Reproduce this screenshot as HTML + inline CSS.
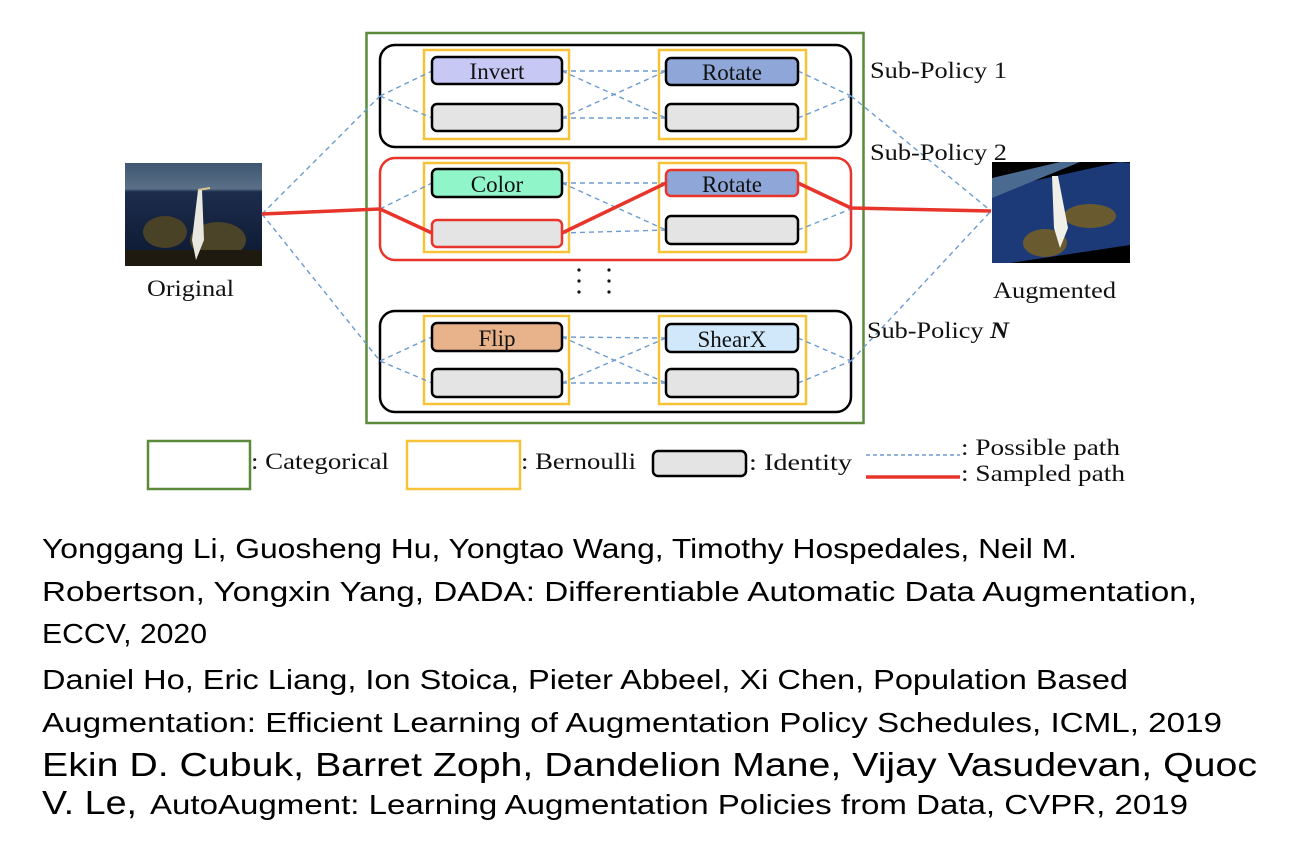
<!DOCTYPE html>
<html><head><meta charset="utf-8"><style>
html,body{margin:0;padding:0;background:#fff;}
svg{display:block;}
.s{font-family:"Liberation Serif",serif;font-size:23px;fill:#111;}
.t{font-family:"Liberation Sans",sans-serif;fill:#000;}
</style></head><body>
<svg width="1292" height="860" viewBox="0 0 1292 860" xmlns="http://www.w3.org/2000/svg">
<defs>
<linearGradient id="sky" x1="0" y1="0" x2="0" y2="1">
<stop offset="0" stop-color="#3e5670"/><stop offset="0.25" stop-color="#5b7088"/><stop offset="0.28" stop-color="#1c2c4c"/><stop offset="1" stop-color="#0d1830"/>
</linearGradient>
</defs>
<!-- Original image -->
<g>
<rect x="125" y="163" width="137" height="103" fill="url(#sky)"/>
<ellipse cx="165" cy="232" rx="22" ry="16" fill="#4a4226"/>
<ellipse cx="218" cy="240" rx="28" ry="18" fill="#4c4428"/>
<rect x="125" y="250" width="137" height="16" fill="#1e1a10"/>
<path d="M198 190 L202 190 L204 240 L196 260 L192 240 Z" fill="#e8e8e0"/>
<path d="M198 190 L210 188" stroke="#d8c890" stroke-width="2"/>
</g>
<text class="s" x="147" y="296" textLength="87" lengthAdjust="spacingAndGlyphs">Original</text>
<!-- Augmented image -->
<g>
<rect x="992" y="162" width="138" height="101" fill="#000"/>
<polygon points="992,190 1120,162 1130,163 1130,245 1010,263 992,263" fill="#1d3a78"/>
<polygon points="992,178 1060,162 1080,162 992,198" fill="#4a6a90"/>
<ellipse cx="1045" cy="243" rx="22" ry="14" fill="#6a5a30"/>
<ellipse cx="1090" cy="216" rx="26" ry="12" fill="#6a5a30"/>
<path d="M1052 176 L1058 176 L1068 228 L1060 248 L1054 228 Z" fill="#f0f0e8"/>
</g>
<text class="s" x="993" y="298" textLength="123" lengthAdjust="spacingAndGlyphs">Augmented</text>

<!-- Green categorical -->
<rect x="366.5" y="33" width="497" height="390" fill="none" stroke="#5b8a3a" stroke-width="2.5"/>

<!-- sub-policy boxes -->
<rect x="380" y="45" width="471" height="102" rx="15" fill="none" stroke="#000" stroke-width="2.5"/>
<rect x="380" y="158" width="471" height="102" rx="15" fill="none" stroke="#e8352b" stroke-width="2.5"/>
<rect x="380" y="311" width="471" height="101" rx="15" fill="none" stroke="#000" stroke-width="2.5"/>

<!-- yellow bernoulli -->
<g fill="none" stroke="#f5c238" stroke-width="2.5">
<rect x="424" y="50" width="145" height="89"/>
<rect x="659" y="50" width="147" height="89"/>
<rect x="424" y="163" width="145" height="89"/>
<rect x="659" y="163" width="147" height="89"/>
<rect x="424" y="316" width="145" height="88"/>
<rect x="659" y="316" width="147" height="88"/>
</g>

<!-- dashed possible paths -->
<g fill="none" stroke="#6c9bd0" stroke-width="1.4" stroke-dasharray="5,4">
<line x1="262" y1="214" x2="380" y2="96"/>
<line x1="262" y1="214" x2="380" y2="361"/>
<line x1="851" y1="96" x2="991" y2="211"/>
<line x1="851" y1="361" x2="991" y2="211"/>
<line x1="380" y1="96" x2="432" y2="71"/><line x1="380" y1="96" x2="432" y2="118"/>
<line x1="562" y1="71" x2="666" y2="71"/><line x1="562" y1="71" x2="666" y2="118"/>
<line x1="562" y1="118" x2="666" y2="71"/><line x1="562" y1="118" x2="666" y2="118"/>
<line x1="798" y1="71" x2="851" y2="96"/><line x1="798" y1="118" x2="851" y2="96"/>
<line x1="380" y1="209" x2="432" y2="183"/>
<line x1="562" y1="183" x2="666" y2="183"/><line x1="562" y1="183" x2="666" y2="230"/>
<line x1="562" y1="233" x2="666" y2="230"/>
<line x1="798" y1="230" x2="851" y2="209"/>
<line x1="380" y1="361" x2="432" y2="337"/><line x1="380" y1="361" x2="432" y2="383"/>
<line x1="562" y1="337" x2="666" y2="338"/><line x1="562" y1="337" x2="666" y2="383"/>
<line x1="562" y1="383" x2="666" y2="338"/><line x1="562" y1="383" x2="666" y2="383"/>
<line x1="798" y1="338" x2="851" y2="361"/><line x1="798" y1="383" x2="851" y2="361"/>
</g>

<!-- sampled path -->
<g fill="none" stroke="#e8352b" stroke-width="3.5" stroke-linejoin="round">
<polyline points="262,214 380,209 432,233"/>
<polyline points="562,233 666,183"/>
<polyline points="798,183 851,208 991,211"/>
</g>

<!-- op boxes -->
<g stroke="#000" stroke-width="2.5">
<rect x="432" y="57" width="130" height="27" rx="5" fill="#c8c8f5"/>
<rect x="432" y="104" width="130" height="27" rx="5" fill="#e4e4e4"/>
<rect x="666" y="58" width="132" height="27" rx="5" fill="#8fa7d8"/>
<rect x="666" y="104" width="132" height="27" rx="5" fill="#e4e4e4"/>
<rect x="432" y="169" width="130" height="28" rx="5" fill="#90f5c8"/>
<rect x="432" y="220" width="130" height="27" rx="5" fill="#e4e4e4" stroke="#e8352b"/>
<rect x="666" y="170" width="132" height="26" rx="5" fill="#8fa7d8" stroke="#e8352b"/>
<rect x="666" y="216" width="132" height="28" rx="5" fill="#e4e4e4"/>
<rect x="432" y="323" width="130" height="28" rx="5" fill="#e8b38a"/>
<rect x="432" y="369" width="130" height="28" rx="5" fill="#e4e4e4"/>
<rect x="666" y="324" width="132" height="28" rx="5" fill="#d0e8fa"/>
<rect x="666" y="369" width="132" height="28" rx="5" fill="#e4e4e4"/>
</g>
<g class="s" text-anchor="middle" font-size="24">
<text x="497" y="79">Invert</text>
<text x="732" y="80">Rotate</text>
<text x="497" y="192">Color</text>
<text x="732" y="192">Rotate</text>
<text x="497" y="346">Flip</text>
<text x="732" y="347">ShearX</text>
</g>
<g fill="#111">
<circle cx="579" cy="270" r="1.6"/><circle cx="579" cy="281" r="1.6"/><circle cx="579" cy="292" r="1.6"/>
<circle cx="609" cy="270" r="1.6"/><circle cx="609" cy="281" r="1.6"/><circle cx="609" cy="292" r="1.6"/>
</g>
<text class="s" x="870" y="78" textLength="137" lengthAdjust="spacingAndGlyphs">Sub-Policy 1</text>
<text class="s" x="870" y="160" textLength="137" lengthAdjust="spacingAndGlyphs">Sub-Policy 2</text>
<text class="s" x="867" y="338" textLength="142" lengthAdjust="spacingAndGlyphs">Sub-Policy <tspan font-style="italic" font-weight="bold">N</tspan></text>

<!-- legend -->
<rect x="148" y="441" width="102" height="48" fill="none" stroke="#5b8a3a" stroke-width="2.5"/>
<text class="s" x="251" y="469" textLength="138" lengthAdjust="spacingAndGlyphs">: Categorical</text>
<rect x="407" y="441" width="113" height="48" fill="none" stroke="#f5c238" stroke-width="2.5"/>
<text class="s" x="521" y="469" textLength="115" lengthAdjust="spacingAndGlyphs">: Bernoulli</text>
<rect x="653" y="451" width="93" height="25" rx="5" fill="#e4e4e4" stroke="#000" stroke-width="2.5"/>
<text class="s" x="749" y="470" textLength="103" lengthAdjust="spacingAndGlyphs">: Identity</text>
<line x1="866" y1="455" x2="960" y2="455" stroke="#6c9bd0" stroke-width="1.4" stroke-dasharray="4,3"/>
<text class="s" x="961" y="455" textLength="159" lengthAdjust="spacingAndGlyphs">: Possible path</text>
<line x1="866" y1="477" x2="960" y2="477" stroke="#e8352b" stroke-width="3.5"/>
<text class="s" x="961" y="481" textLength="164" lengthAdjust="spacingAndGlyphs">: Sampled path</text>

<!-- references -->
<g class="t" font-size="28">
<text x="42" y="558" textLength="1035" lengthAdjust="spacingAndGlyphs">Yonggang Li, Guosheng Hu, Yongtao Wang, Timothy Hospedales, Neil M.</text>
<text x="42" y="601" textLength="1155" lengthAdjust="spacingAndGlyphs">Robertson, Yongxin Yang, DADA: Differentiable Automatic Data Augmentation,</text>
<text x="42" y="643" textLength="165" lengthAdjust="spacingAndGlyphs">ECCV, 2020</text>
<text x="42" y="689" textLength="1086" lengthAdjust="spacingAndGlyphs">Daniel Ho, Eric Liang, Ion Stoica, Pieter Abbeel, Xi Chen, Population Based</text>
<text x="42" y="732" textLength="1180" lengthAdjust="spacingAndGlyphs">Augmentation: Efficient Learning of Augmentation Policy Schedules, ICML, 2019</text>
<text x="42" y="776" font-size="33" textLength="1215" lengthAdjust="spacingAndGlyphs">Ekin D. Cubuk, Barret Zoph, Dandelion Mane, Vijay Vasudevan, Quoc</text>
<text x="42" y="814" font-size="33" textLength="95" lengthAdjust="spacingAndGlyphs">V. Le,</text>
<text x="150" y="814" textLength="1038" lengthAdjust="spacingAndGlyphs">AutoAugment: Learning Augmentation Policies from Data, CVPR, 2019</text>
</g>
</svg>
</body></html>
